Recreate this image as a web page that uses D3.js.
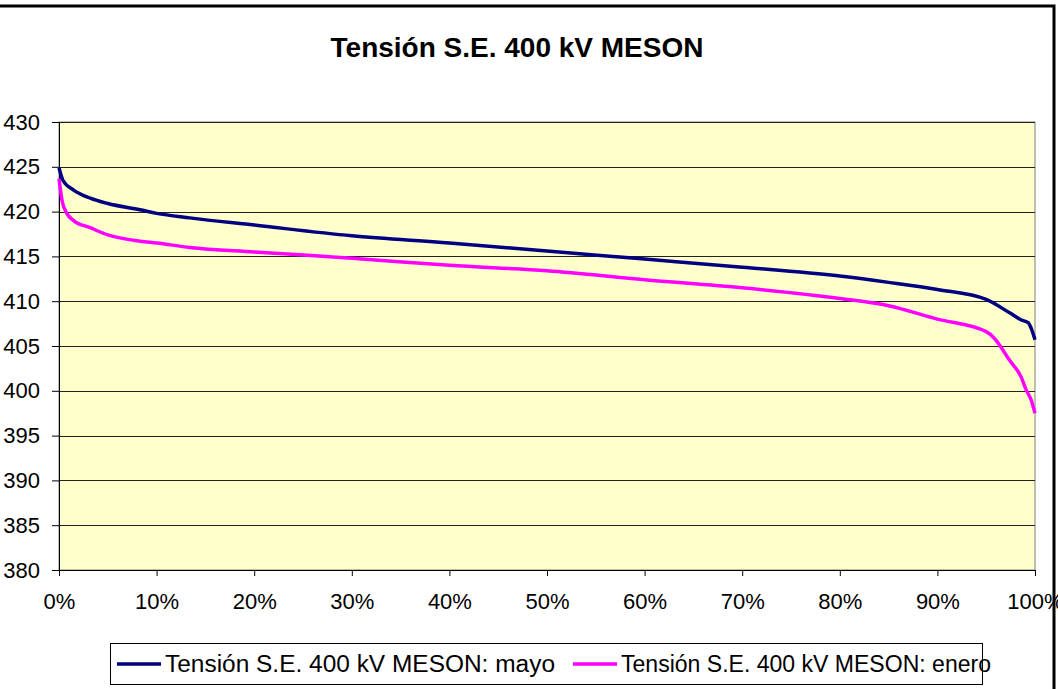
<!DOCTYPE html>
<html>
<head>
<meta charset="utf-8">
<script src="https://cdn.jsdelivr.net/npm/d3@7"></script>
<style>
  body { margin: 0; background: #fff; }
  svg text { font-family: "Liberation Sans", Arial, sans-serif; }
</style>
</head>
<body>
<svg id="chart" width="1058" height="689"></svg>
<script>
// data (percent of time, kV)
var mayoPct = [0, 0.4, 1.5, 3.2, 5, 8.3, 10, 13.4, 20, 30, 40, 50, 60, 70, 80, 85, 90, 95, 97.4, 98.6, 99.3, 99.6, 100];
var mayoKV  = [424.9, 423.5, 422.4, 421.5, 420.9, 420.2, 419.8, 419.3, 418.5, 417.3, 416.5, 415.6, 414.7, 413.8, 412.8, 412.1, 411.3, 410.2, 408.7, 407.9, 407.6, 407.0, 405.7];

var eneroPct = [0, 0.3, 0.8, 1.5, 3.2, 5, 8.3, 10, 13.4, 20, 30, 40, 50, 60, 70, 80, 85, 90, 95, 95.8, 97.4, 98.6, 99.1, 99.6, 100];
var eneroKV  = [423.7, 421.3, 419.8, 419.0, 418.2, 417.4, 416.7, 416.5, 416.0, 415.5, 414.8, 414.0, 413.4, 412.4, 411.5, 410.3, 409.5, 408.0, 406.6, 405.9, 403.4, 401.5, 400.1, 399.0, 397.5];

var yTicks = [380, 385, 390, 395, 400, 405, 410, 415, 420, 425, 430];
var xTicks = [0, 10, 20, 30, 40, 50, 60, 70, 80, 90, 100];

var seriesNames = ["Tensión S.E. 400 kV MESON: mayo", "Tensión S.E. 400 kV MESON: enero"];
var seriesColors = ["#000080", "#FF00FF"];
var title = "Tensión S.E. 400 kV MESON";

var svg = d3.select("#chart");
var plot = { left: 59, top: 122, right: 1035, bottom: 570 };

var x = d3.scaleLinear().domain([0, 100]).range([plot.left, plot.right]);
var y = d3.scaleLinear().domain([380, 430]).range([plot.bottom, plot.top]);

// title
svg.append("text")
  .attr("x", 517)
  .attr("y", 57)
  .attr("text-anchor", "middle")
  .attr("font-size", "28px")
  .attr("font-weight", "bold")
  .text(title);

// plot background
svg.append("rect")
  .attr("x", plot.left)
  .attr("y", plot.top)
  .attr("width", plot.right - plot.left)
  .attr("height", plot.bottom - plot.top)
  .attr("fill", "#FFFFCC")
  .attr("stroke", "#808080")
  .attr("stroke-width", 1);

// gridlines
svg.append("g")
  .selectAll("line")
  .data(yTicks)
  .enter().append("line")
  .attr("x1", plot.left)
  .attr("x2", plot.right)
  .attr("y1", d => Math.round(y(d)) + 0.5)
  .attr("y2", d => Math.round(y(d)) + 0.5)
  .attr("stroke", "#222")
  .attr("stroke-width", 1);

// y axis
var yAxis = d3.axisLeft(y).tickValues(yTicks).tickSize(7).tickPadding(12);
var gy = svg.append("g")
  .attr("transform", "translate(" + plot.left + ",0)")
  .call(yAxis);
gy.selectAll("text").attr("font-size", "22px").attr("fill", "#000").attr("font-family", "Liberation Sans, Arial, sans-serif");

// x axis
var xAxis = d3.axisBottom(x).tickValues(xTicks).tickSize(6).tickPadding(17).tickFormat(d => d + "%");
var gx = svg.append("g")
  .attr("transform", "translate(0," + plot.bottom + ")")
  .call(xAxis);
gx.selectAll("text").attr("font-size", "22px").attr("fill", "#000").attr("font-family", "Liberation Sans, Arial, sans-serif");
gx.select(".domain").attr("stroke", "#000");
gy.select(".domain").attr("stroke", "#000");

// lines
var mayo = mayoPct.map((p, i) => [p, mayoKV[i]]);
var enero = eneroPct.map((p, i) => [p, eneroKV[i]]);

var line = d3.line()
  .x(d => x(d[0]))
  .y(d => y(d[1]))
  .curve(d3.curveMonotoneX);

svg.append("path")
  .datum(enero)
  .attr("d", line)
  .attr("fill", "none")
  .attr("stroke", seriesColors[1])
  .attr("stroke-width", 3.5);

svg.append("path")
  .datum(mayo)
  .attr("d", line)
  .attr("fill", "none")
  .attr("stroke", seriesColors[0])
  .attr("stroke-width", 3.5);

// legend
var legend = svg.append("g");
legend.append("rect")
  .attr("x", 110.5)
  .attr("y", 643.5)
  .attr("width", 872)
  .attr("height", 41)
  .attr("fill", "#fff")
  .attr("stroke", "#000")
  .attr("stroke-width", 1);

var legX = [117, 573];
seriesNames.forEach((name, i) => {
  legend.append("line")
    .attr("x1", legX[i])
    .attr("x2", legX[i] + 44)
    .attr("y1", 664)
    .attr("y2", 664)
    .attr("stroke", seriesColors[i])
    .attr("stroke-width", 3.5);
  legend.append("text")
    .attr("x", legX[i] + 48)
    .attr("y", 672)
    .attr("font-size", "23px")
    .attr("textLength", i === 0 ? 390 : 370)
    .attr("lengthAdjust", "spacingAndGlyphs")
    .text(name);
});

// outer chart border (left and bottom edges fall outside the picture)
svg.append("path")
  .attr("d", "M0,6 H1054 V689")
  .attr("fill", "none")
  .attr("stroke", "#000")
  .attr("stroke-width", 3);
</script>
</body>
</html>
